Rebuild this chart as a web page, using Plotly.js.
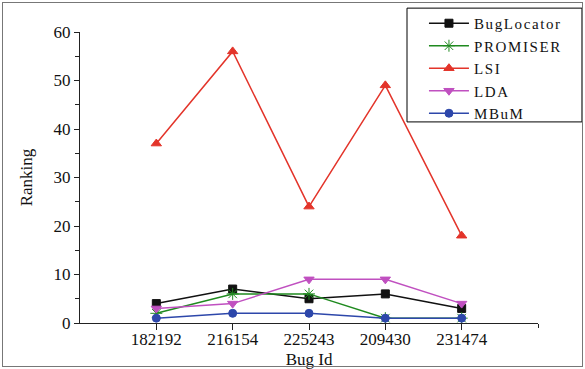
<!DOCTYPE html>
<html>
<head>
<meta charset="utf-8">
<script src="https://cdn.plot.ly/plotly-3.0.1.min.js"></script>
<style>
  html, body { margin: 0; padding: 0; background: #fff; }
  #wrap { position: relative; width: 585px; height: 369px; }
  #chart { width: 585px; height: 369px; }
  #frame { position: absolute; left: 2px; top: 2px; width: 579px; height: 363px; border: 1.5px solid #777; pointer-events: none; }
  .legendtext { letter-spacing: 1.6px; }
</style>
</head>
<body>
<div id="wrap">
  <div id="chart"></div>
  <div id="frame"></div>
</div>
<script>
const bugIds = ["182192", "216154", "225243", "209430", "231474"];
const bugLocator = [4, 7, 5, 6, 3];
const promiser = [2, 6, 6, 1, 1];
const lsi = [37, 56, 24, 49, 18];
const lda = [3, 4, 9, 9, 4];
const mbum = [1, 2, 2, 1, 1];

const font = "Liberation Serif";

function tr(name, y, color, symbol, size) {
  return {
    type: "scatter", mode: "lines+markers", name: name,
    x: bugIds, y: y,
    line: { color: color, width: 1.5 },
    marker: { color: color, symbol: symbol, size: size, line: { color: color, width: 1 } }
  };
}

const data = [
  tr("BugLocator", bugLocator, "#111111", "square", 8),
  tr("PROMISER", promiser, "#1f8a1f", "asterisk-open", 10),
  tr("LSI", lsi, "#e3342a", "triangle-up", 9),
  tr("LDA", lda, "#c050c0", "triangle-down", 9),
  tr("MBuM", mbum, "#2d47aa", "circle", 8)
];

const layout = {
  width: 585, height: 369,
  margin: { l: 80, r: 47, t: 32, b: 46, autoexpand: false },
  paper_bgcolor: "#fff", plot_bgcolor: "#fff",
  font: { family: font, size: 17, color: "#111" },
  showlegend: true,
  legend: {
    x: 0.751, y: 1.086, xanchor: "left", yanchor: "top",
    borderwidth: 0, bgcolor: "rgba(0,0,0,0)",
    font: { family: font, size: 15, color: "#111" },
    tracegroupgap: 0, itemwidth: 40
  },
  shapes: [{
    type: "rect", xref: "paper", yref: "paper",
    x0: 0.714, x1: 1.096, y0: 0.691, y1: 1.082,
    line: { color: "#000", width: 1 }, fillcolor: "#fff", layer: "above"
  }],
  xaxis: {
    type: "category", range: [-1, 5],
    showgrid: false, zeroline: false,
    showline: true, linecolor: "#222", linewidth: 1.2,
    ticks: "outside", ticklen: 6, tickcolor: "#222",
    ticklabelstandoff: -6,
    minor: { ticks: "outside", ticklen: 4, tickcolor: "#222", dtick: 0.5 },
    tickfont: { family: font, size: 17, color: "#111" },
    title: { text: "Bug Id", font: { family: font, size: 17, color: "#111" }, standoff: 6 }
  },
  yaxis: {
    range: [0, 60], dtick: 10,
    showgrid: false, zeroline: false,
    showline: true, linecolor: "#222", linewidth: 1.2,
    ticks: "outside", ticklen: 5, tickcolor: "#222",
    minor: { ticks: "outside", ticklen: 4, tickcolor: "#222", dtick: 5 },
    tickfont: { family: font, size: 17, color: "#111" },
    title: { text: "Ranking", font: { family: font, size: 17, color: "#111" }, standoff: 16 }
  }
};

Plotly.newPlot("chart", data, layout, { displayModeBar: false, staticPlot: true });
</script>
</body>
</html>
